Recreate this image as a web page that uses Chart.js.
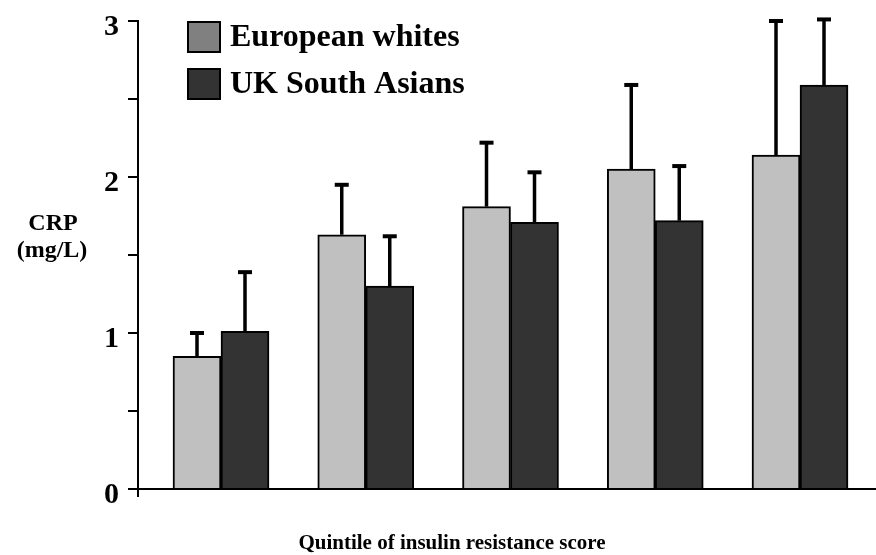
<!DOCTYPE html>
<html>
<head>
<meta charset="utf-8">
<script src="https://cdn.jsdelivr.net/npm/chart.js@4.4.1/dist/chart.umd.min.js"></script>
<style>
  html, body { margin: 0; padding: 0; background: #ffffff; }
  #wrap { width: 876px; height: 555px; }
</style>
</head>
<body>
<div id="wrap"><canvas id="crp" width="876" height="555"></canvas></div>
<script>
// Quintiles of insulin resistance score
const quintiles = [1, 2, 3, 4, 5];
const seriesNames = ['European whites', 'UK South Asians'];

// Mean CRP (mg/L) per quintile
const crpWhites = [0.85, 1.63, 1.81, 2.05, 2.14];
const crpAsians = [1.01, 1.30, 1.71, 1.72, 2.59];

// Upper error bar lengths (mg/L)
const errWhites = [0.15, 0.32, 0.41, 0.54, 0.86];
const errAsians = [0.38, 0.32, 0.32, 0.35, 0.42];

// Labelled y ticks (minor ticks at the half steps stay unlabelled)
const yTickLabels = ['0', '1', '2', '3'];

const yTitleLines = ['CRP', '(mg/L)'];
const xTitle = 'Quintile of insulin resistance score';

const serif = "'Liberation Serif', 'Times New Roman', serif";
const barFill = ['#c0c0c0', '#333333'];
const swatchFill = ['#808080', '#333333'];

const toPoints = (vals) => quintiles.map((q, i) => ({ x: q, y: vals[i] }));

// Upward error bars with a flat cap, drawn from each bar's top
const errorBars = {
  id: 'errorBars',
  afterDatasetsDraw(chart) {
    const { ctx } = chart;
    const yScale = chart.scales.y;
    chart.data.datasets.forEach((ds, di) => {
      const meta = chart.getDatasetMeta(di);
      meta.data.forEach((bar, i) => {
        const top = yScale.getPixelForValue(ds.data[i].y + ds.errUp[i]);
        ctx.save();
        ctx.strokeStyle = '#000';
        ctx.lineCap = 'butt';
        ctx.lineWidth = 3.5;
        ctx.beginPath();
        ctx.moveTo(bar.x, bar.y);
        ctx.lineTo(bar.x, top);
        ctx.stroke();
        ctx.lineWidth = 4;
        ctx.beginPath();
        ctx.moveTo(bar.x - 7, top);
        ctx.lineTo(bar.x + 7, top);
        ctx.stroke();
        ctx.restore();
      });
    });
  }
};

// Legend, axis titles and the axis-line extensions
const decorations = {
  id: 'decorations',
  afterDraw(chart) {
    const { ctx, chartArea } = chart;
    ctx.save();

    // baseline runs to the right edge; y axis pokes a little below it
    ctx.strokeStyle = '#000';
    ctx.lineWidth = 2;
    ctx.beginPath();
    ctx.moveTo(chartArea.left - 1, chartArea.bottom);
    ctx.lineTo(chart.width, chartArea.bottom);
    ctx.moveTo(chartArea.left, chartArea.bottom);
    ctx.lineTo(chartArea.left, chartArea.bottom + 8);
    ctx.stroke();

    // legend
    ctx.font = 'bold 32px ' + serif;
    ctx.textAlign = 'left';
    ctx.textBaseline = 'alphabetic';
    chart.data.datasets.forEach((ds, i) => {
      const top = 22 + i * 47;
      ctx.fillStyle = ds.swatch;
      ctx.fillRect(188, top, 32, 30);
      ctx.lineWidth = 2;
      ctx.strokeStyle = '#000';
      ctx.strokeRect(188, top, 32, 30);
      ctx.fillStyle = '#000';
      ctx.fillText(ds.label, 230, top + 24);
    });

    // y title (horizontal, two lines)
    ctx.font = 'bold 24px ' + serif;
    ctx.textAlign = 'center';
    ctx.fillText(yTitleLines[0], 53, 230);
    ctx.fillText(yTitleLines[1], 52, 257);

    // x title
    ctx.font = 'bold 21px ' + serif;
    ctx.fillText(xTitle, 452, 549);

    ctx.restore();
  }
};

new Chart(document.getElementById('crp').getContext('2d'), {
  type: 'bar',
  data: {
    datasets: [
      {
        label: seriesNames[0],
        data: toPoints(crpWhites),
        errUp: errWhites,
        backgroundColor: barFill[0],
        swatch: swatchFill[0],
        borderColor: '#000',
        borderWidth: 2,
        barThickness: 48
      },
      {
        label: seriesNames[1],
        data: toPoints(crpAsians),
        errUp: errAsians,
        backgroundColor: barFill[1],
        swatch: swatchFill[1],
        borderColor: '#000',
        borderWidth: 2,
        barThickness: 48
      }
    ]
  },
  options: {
    responsive: false,
    animation: false,
    devicePixelRatio: 1,
    layout: { padding: { left: 0, right: 0, top: 21, bottom: 66 } },
    plugins: {
      legend: { display: false },
      tooltip: { enabled: false }
    },
    scales: {
      x: {
        type: 'linear',
        min: 0.4266,
        max: 5.525,
        offset: false,
        grid: { display: false, drawTicks: false, offset: false },
        ticks: { display: false },
        border: { display: true, color: '#000', width: 2 }
      },
      y: {
        min: 0,
        max: 3,
        afterFit(scale) {
          scale.width = 138;
          scale.paddingTop = 0;
          scale.paddingBottom = 0;
        },
        ticks: {
          stepSize: 0.5,
          color: '#000',
          padding: 9,
          labelOffset: 6,
          font: { family: serif, size: 30, weight: 'bold' },
          callback: (v) => (Number.isInteger(v) ? yTickLabels[v] : '')
        },
        grid: {
          drawOnChartArea: false,
          drawTicks: true,
          tickLength: 10,
          color: '#000',
          lineWidth: 2
        },
        border: { display: true, color: '#000', width: 2 }
      }
    }
  },
  plugins: [errorBars, decorations]
});
</script>
</body>
</html>
